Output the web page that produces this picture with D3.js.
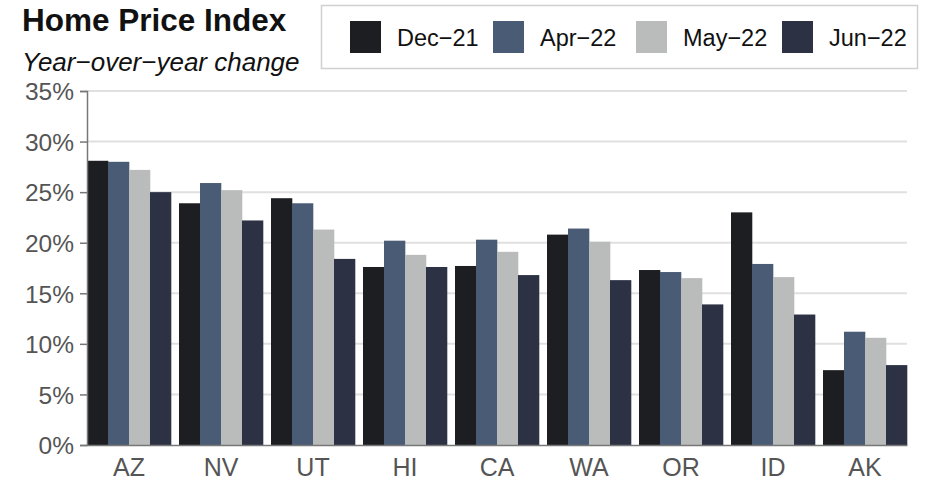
<!DOCTYPE html>
<html>
<head>
<meta charset="UTF-8">
<title>Home Price Index</title>
<style>
  body { margin: 0; background: #fff; }
  text { font-family: "Liberation Sans", Arial, sans-serif; }
</style>
</head>
<body>
<script src="https://d3js.org/d3.v7.min.js"></script>
<script>
// data
var states = ["AZ", "NV", "UT", "HI", "CA", "WA", "OR", "ID", "AK"]
var seriesNames = ["Dec\u221221", "Apr\u221222", "May\u221222", "Jun\u221222"]
var dec21 = [28.1, 23.9, 24.4, 17.6, 17.7, 20.8, 17.3, 23.0, 7.4]
var apr22 = [28.0, 25.9, 23.9, 20.2, 20.3, 21.4, 17.1, 17.9, 11.2]
var may22 = [27.2, 25.2, 21.3, 18.8, 19.1, 20.1, 16.5, 16.6, 10.6]
var jun22 = [25.0, 22.2, 18.4, 17.6, 16.8, 16.3, 13.9, 12.9, 7.9]
var yTicks = [0, 5, 10, 15, 20, 25, 30, 35]
var colors = ["#1d1e22", "#4a5b75", "#babbbb", "#2c3144"]

var seriesValues = [dec21, apr22, may22, jun22]

var width = 925
var height = 480
var margin = { top: 91, right: 18, bottom: 35, left: 87 }

var svg = d3.select("body").append("svg")
    .attr("width", width)
    .attr("height", height)

var x0 = d3.scaleBand()
    .domain(states)
    .range([margin.left, width - margin.right])
    .paddingInner(0.087)
    .paddingOuter(0)

var x1 = d3.scaleBand()
    .domain(seriesNames)
    .range([0, x0.bandwidth()])

var y = d3.scaleLinear()
    .domain([0, 35])
    .range([height - margin.bottom, margin.top])

// gridlines
svg.append("g")
    .selectAll("line")
    .data(yTicks.filter(function(d){ return d > 0 }))
    .enter().append("line")
    .attr("x1", margin.left)
    .attr("x2", width - margin.right)
    .attr("y1", function(d){ return y(d) })
    .attr("y2", function(d){ return y(d) })
    .attr("stroke", "#e0e0e0")
    .attr("stroke-width", 2)

// bars
var groups = svg.append("g")
    .selectAll("g")
    .data(states)
    .enter().append("g")
    .attr("transform", function(d){ return "translate(" + x0(d) + ",0)" })

groups.selectAll("rect")
    .data(function(d, i){
        return seriesNames.map(function(s, j){ return { key: s, value: seriesValues[j][i], idx: j } })
    })
    .enter().append("rect")
    .attr("x", function(d){ return x1(d.key) })
    .attr("width", x1.bandwidth() + 0.3)
    .attr("y", function(d){ return y(d.value) })
    .attr("height", function(d){ return y(0) - y(d.value) })
    .attr("fill", function(d){ return colors[d.idx] })

// y axis
var yAxis = svg.append("g")
    .attr("transform", "translate(" + margin.left + ",0)")
    .call(d3.axisLeft(y).tickValues(yTicks).tickSize(7).tickPadding(6)
        .tickFormat(function(d){ return d + "%" }))
yAxis.select(".domain").attr("stroke", "#777").attr("stroke-width", 1.5)
yAxis.selectAll(".tick line").attr("stroke", "#777").attr("stroke-width", 1.5)
yAxis.selectAll(".tick text")
    .attr("fill", "#555")
    .attr("font-size", 24.5)
    .attr("font-family", "Liberation Sans, Arial, sans-serif")
    .attr("dy", "0.36em")

// x axis
var xAxis = svg.append("g")
    .attr("transform", "translate(0," + (height - margin.bottom) + ")")
    .call(d3.axisBottom(x0).tickSize(0).tickPadding(13))
xAxis.select(".domain").attr("stroke", "#777").attr("stroke-width", 1.5)
xAxis.selectAll(".tick text")
    .attr("fill", "#555")
    .attr("font-size", 25)
    .attr("font-family", "Liberation Sans, Arial, sans-serif")
    .attr("dy", "0.71em")

// title
svg.append("text")
    .attr("x", 22)
    .attr("y", 31)
    .attr("font-size", 31.5)
    .attr("font-weight", "bold")
    .attr("fill", "#111")
    .text("Home Price Index")

svg.append("text")
    .attr("x", 22)
    .attr("y", 71)
    .attr("font-size", 26)
    .attr("font-style", "italic")
    .attr("fill", "#111")
    .text("Year\u2212over\u2212year change")

// legend
svg.append("rect")
    .attr("x", 321.5)
    .attr("y", 5.5)
    .attr("width", 596)
    .attr("height", 63)
    .attr("fill", "#fff")
    .attr("stroke", "#d0d0d0")
    .attr("stroke-width", 1.5)

var legendX = [350, 493, 636, 782]
var legend = svg.append("g")
    .selectAll("g")
    .data(seriesNames)
    .enter().append("g")
    .attr("transform", function(d, i){ return "translate(" + legendX[i] + ",21)" })

legend.append("rect")
    .attr("width", 31)
    .attr("height", 32)
    .attr("fill", function(d, i){ return colors[i] })

legend.append("text")
    .attr("x", 47)
    .attr("y", 25)
    .attr("font-size", 23.5)
    .attr("fill", "#111")
    .text(function(d){ return d })
</script>
</body>
</html>
